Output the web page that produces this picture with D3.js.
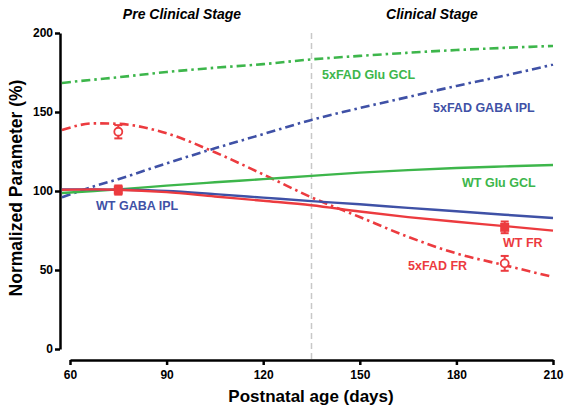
<!DOCTYPE html>
<html>
<head>
<meta charset="utf-8">
<script src="https://cdn.jsdelivr.net/npm/d3@7"></script>
<style>
  body { margin: 0; background: #fff; }
  text { font-family: "Liberation Sans", Arial, Helvetica, sans-serif; }
</style>
</head>
<body>
<svg id="chart" width="564" height="409"></svg>
<script>
// ---- data ----
const days = [57.5, 67.5, 75, 90, 105, 120, 135, 150, 165, 180, 195, 210];
const glu5xFAD  = [168.4, 170.5, 172, 175.3, 178, 180.3, 183.3, 185.5, 187.5, 189.2, 190.6, 191.8];
const gaba5xFAD = [96, 103, 107.5, 117.5, 127, 136, 145, 152.5, 159.5, 166.5, 173, 180];
const fr5xFAD   = [138.6, 142.8, 142.5, 136.5, 124.5, 110.5, 96, 83.5, 71, 60.5, 53, 45.6];
const gluWT     = [98.7, 100, 101, 103.4, 105.5, 107.5, 109.6, 111.6, 113.2, 114.6, 115.6, 116.5];
const gabaWT    = [101, 101, 100.8, 100, 98, 95.8, 93.6, 91.6, 89.3, 87.2, 85, 82.9];
const frWT      = [100.8, 101, 100.8, 99.3, 96.5, 93.8, 91, 87, 83.5, 80.5, 77.8, 74.9];

const markerDays = [75, 195];
const frWTMean = [100.6, 77];
const frWTErr = [2.9, 3.7];
const fr5xMean = [137.5, 54.2];
const fr5xErr = [4.2, 4.7];

const xTicks = [60, 90, 120, 150, 180, 210];
const yTicks = [0, 50, 100, 150, 200];
const stageDay = 135;

const RED = "#ec3b3f", BLUE = "#3f51a6", GREEN = "#3db64b";

// ---- scales ----
const svg = d3.select("#chart");
const x = d3.scaleLinear().domain([60, 210]).range([70, 553]);
const y = d3.scaleLinear().domain([0, 200]).range([349, 33]);

// stage divider
svg.append("line")
  .attr("x1", x(stageDay)).attr("x2", x(stageDay))
  .attr("y1", y(200)).attr("y2", 361)
  .attr("stroke", "#c8c8c8").attr("stroke-width", 1.5)
  .attr("stroke-dasharray", "6,4");

// axes
const yAxis = svg.append("g").attr("transform", "translate(60,0)")
  .call(d3.axisLeft(y).tickValues(yTicks).tickSize(5).tickSizeOuter(0).tickPadding(2));
const xAxis = svg.append("g").attr("transform", "translate(0,360)")
  .call(d3.axisBottom(x).tickValues(xTicks).tickSize(5).tickSizeOuter(0).tickPadding(5));
[yAxis, xAxis].forEach(g => {
  g.select(".domain").attr("stroke", "#000").attr("stroke-width", 2.5);
  g.selectAll(".tick line").attr("stroke", "#000").attr("stroke-width", 2.5);
  g.selectAll(".tick text").attr("fill", "#000")
    .style("font-family", "'Liberation Sans', Arial, sans-serif")
    .style("font-size", "12px").style("font-weight", "bold");
});

// curves
const line = d3.line().x(d => x(d[0])).y(d => y(d[1])).curve(d3.curveMonotoneX);
const series = [
  { vals: glu5xFAD, color: GREEN, dash: true },
  { vals: gaba5xFAD, color: BLUE, dash: true },
  { vals: fr5xFAD, color: RED, dash: true },
  { vals: gluWT, color: GREEN, dash: false },
  { vals: gabaWT, color: BLUE, dash: false },
  { vals: frWT, color: RED, dash: false }
];
series.forEach(s => {
  svg.append("path")
    .attr("d", line(days.map((d, i) => [d, s.vals[i]])))
    .attr("fill", "none")
    .attr("stroke", s.color)
    .attr("stroke-width", s.dash ? 2.6 : 2.4)
    .attr("stroke-dasharray", s.dash ? "9,4,2.5,4" : null);
});

// error bars + markers
function errBars(means, errs, color) {
  markerDays.forEach((d, i) => {
    const cx = x(d);
    const y1 = y(means[i] + errs[i]), y2 = y(means[i] - errs[i]);
    svg.append("line").attr("x1", cx).attr("x2", cx).attr("y1", y1).attr("y2", y2)
      .attr("stroke", color).attr("stroke-width", 2);
    [y1, y2].forEach(yy => svg.append("line")
      .attr("x1", cx - 4).attr("x2", cx + 4).attr("y1", yy).attr("y2", yy)
      .attr("stroke", color).attr("stroke-width", 2));
  });
}
errBars(frWTMean, frWTErr, RED);
errBars(fr5xMean, fr5xErr, RED);
svg.selectAll("rect.wt").data(markerDays).enter().append("rect")
  .attr("x", d => x(d) - 4.5).attr("y", (d, i) => y(frWTMean[i]) - 4.5)
  .attr("width", 9).attr("height", 9).attr("fill", RED);
svg.selectAll("circle.fad").data(markerDays).enter().append("circle")
  .attr("cx", d => x(d)).attr("cy", (d, i) => y(fr5xMean[i]))
  .attr("r", 4).attr("fill", "#fff").attr("stroke", RED).attr("stroke-width", 1.8);

// series labels
const labels = [
  { t: "5xFAD Glu GCL", x: 322, y: 79, c: GREEN },
  { t: "5xFAD GABA IPL", x: 433, y: 112, c: BLUE },
  { t: "WT Glu GCL", x: 462, y: 187, c: GREEN },
  { t: "WT GABA IPL", x: 96, y: 210, c: BLUE },
  { t: "WT FR", x: 503, y: 247, c: RED },
  { t: "5xFAD FR", x: 408, y: 270, c: RED }
];
labels.forEach(l => svg.append("text").attr("x", l.x).attr("y", l.y)
  .attr("fill", l.c).style("font-size", "12.5px").style("font-weight", "bold").text(l.t));

// stage titles
svg.append("text").attr("x", 182).attr("y", 19).attr("text-anchor", "middle")
  .style("font-size", "14px").style("font-weight", "bold").style("font-style", "italic")
  .text("Pre Clinical Stage");
svg.append("text").attr("x", 432).attr("y", 19).attr("text-anchor", "middle")
  .style("font-size", "14px").style("font-weight", "bold").style("font-style", "italic")
  .text("Clinical Stage");

// axis titles
svg.append("text").attr("x", 311).attr("y", 402).attr("text-anchor", "middle")
  .style("font-size", "17px").style("font-weight", "bold").text("Postnatal age (days)");
svg.append("text").attr("transform", "translate(22,188) rotate(-90)").attr("text-anchor", "middle")
  .style("font-size", "17.5px").style("font-weight", "bold").text("Normalized Parameter (%)");
</script>
</body>
</html>
